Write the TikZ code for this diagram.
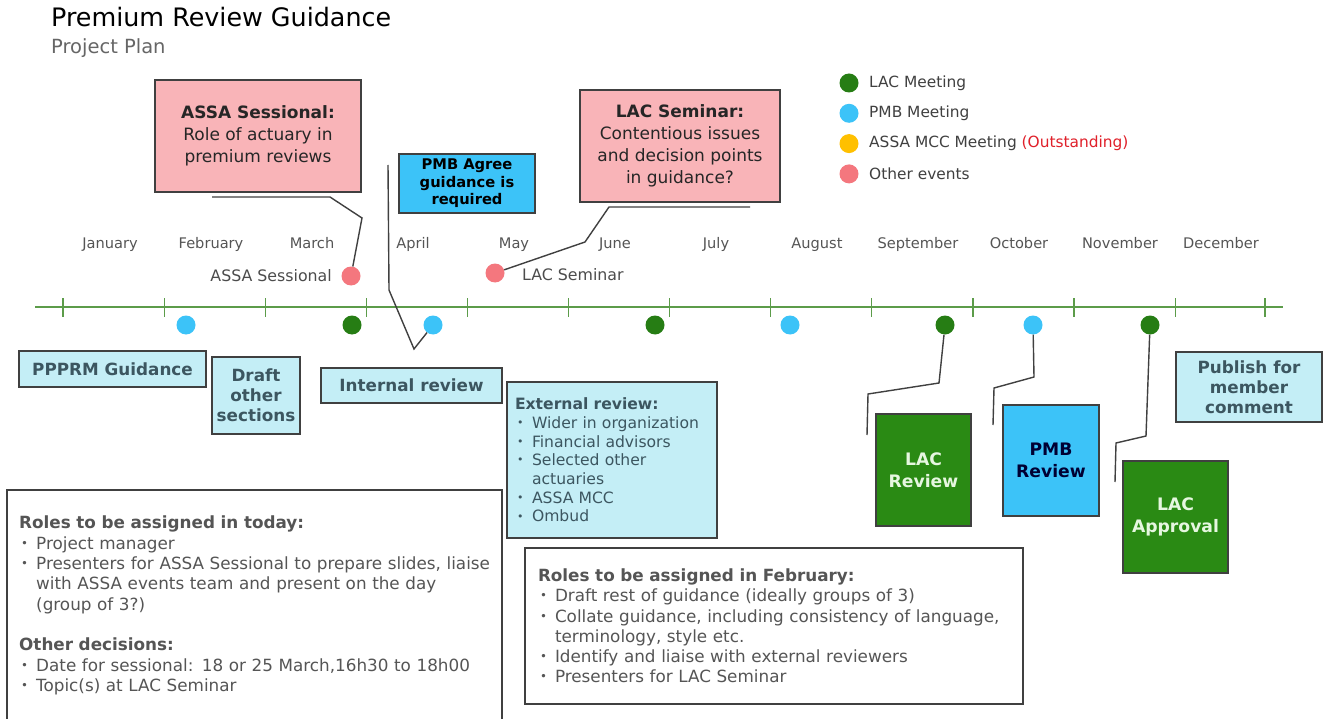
\documentclass[tikz,border=0pt]{standalone}
\usepackage{fontspec}
\usepackage{graphicx}
\setmainfont{DejaVu Sans}
\usetikzlibrary{positioning}
\definecolor{lacgreen}{HTML}{2A8A14}
\definecolor{lacdotc}{HTML}{267D14}
\definecolor{pmbblue}{HTML}{3CC3F8}
\definecolor{eventpink}{HTML}{F9B4B8}
\definecolor{eventdotc}{HTML}{F4777E}
\definecolor{mccorange}{HTML}{FFC000}
\definecolor{paleblue}{HTML}{C4EEF6}
\definecolor{slatetext}{HTML}{3C5660}
\definecolor{greytext}{HTML}{555555}
\definecolor{axisgreen}{HTML}{5C9C4A}
\definecolor{outred}{HTML}{E0202A}
\definecolor{palegreentext}{HTML}{E6F7E0}
\hyphenpenalty=10000
\exhyphenpenalty=10000
\newcommand{\pitem}[1]{\par\noindent\hangindent=17pt\hangafter=1\makebox[17pt][l]{\hspace{2pt}\raisebox{0.12em}{\scalebox{0.7}{\textbullet}}}#1}
\tikzset{
  box/.style={draw=black!75, line width=1.2pt, align=center, inner sep=0pt},
  pinkbox/.style={box, fill=eventpink, text=black!85, font=\fontsize{17}{22}\selectfont},
  agreebox/.style={box, fill=pmbblue, text=black, font=\bfseries\fontsize{14.7}{17.5}\selectfont},
  palebox/.style={box, fill=paleblue, text=slatetext, font=\bfseries\fontsize{16.8}{20}\selectfont},
  greenbox/.style={box, fill=lacgreen, text=palegreentext, font=\bfseries\fontsize{17.2}{22}\selectfont},
  bluebox/.style={box, fill=pmbblue, text=black!80!blue, font=\bfseries\fontsize{17.2}{22}\selectfont},
  notebox/.style={draw=black!75, line width=1.2pt, align=left, text=greytext},
  callout/.style={draw=black!75, line width=1.4pt},
  axis/.style={draw=axisgreen, line width=1.2pt},
  month/.style={text=greytext, anchor=base, font=\fontsize{14.6}{16}\selectfont},
  evdot/.style={circle, minimum size=19pt, inner sep=0pt},
  lacdot/.style={evdot, fill=lacdotc},
  pmbdot/.style={evdot, fill=pmbblue},
  otherdot/.style={evdot, fill=eventdotc},
}
\begin{document}
\begin{tikzpicture}[x=1pt,y=-1pt]
\useasboundingbox[fill=white] (0,0) rectangle (1324,719);

% heading
\node[anchor=west, inner sep=0pt, font=\fontsize{25.4}{28}\selectfont] (title) at (51,17) {Premium Review Guidance};
\node[anchor=west, inner sep=0pt, text=black!60, font=\fontsize{19.5}{22}\selectfont] (subtitle) at (51,48) {Project Plan};

% legend
\foreach \c/\t [count=\i from 0] in {lacdotc/LAC Meeting, pmbblue/PMB Meeting, mccorange/ASSA MCC Meeting \textcolor{outred}{(Outstanding)}, eventdotc/Other events}{
  \node[evdot, fill=\c] (legdot\i) at (849,{83+30.3*\i}) {};
  \node[anchor=west, inner sep=0pt, text=black!75, font=\fontsize{15.4}{17}\selectfont] (legtxt\i) at (869,{83+30.3*\i}) {\t};
}

% months and axis
\foreach \m [count=\i from 0] in {January,February,March,April,May,June,July,August,September,October,November,December}
  \node[month] (m\i) at ({110+101*\i},248) {\m};
\draw[axis] (35,307) -- (1283,307);
\foreach \k in {0,...,11}
  \draw[axis] ({63+101.1*\k},298) -- ++(0,19);
\draw[axis] (1265,298) -- ++(0,19);

% events on the line
\node[otherdot] (dotsess) at (351,276) {};
\node[otherdot] (dotsem) at (495,273) {};
\node[anchor=east, inner sep=0pt, text=black!70, font=\fontsize{15.8}{18}\selectfont] (sesslbl) at (332,276) {ASSA Sessional};
\node[anchor=west, inner sep=0pt, text=black!70, font=\fontsize{15.8}{18}\selectfont] (semlbl) at (522,275) {LAC Seminar};
\node[pmbdot] (dotfeb) at (186,325) {};
\node[lacdot] (dotmar) at (352,325) {};
\node[pmbdot] (dotapr) at (433,325) {};
\node[lacdot] (dotjun) at (655,325) {};
\node[pmbdot] (dotaug) at (790,325) {};
\node[lacdot] (dotsep) at (945,325) {};
\node[pmbdot] (dotoct) at (1033,325) {};
\node[lacdot] (dotnov) at (1150,325) {};

% boxes above the line
\node[pinkbox, minimum width=206pt, minimum height=112pt] (sessbox) at (258,136)
  {\textbf{ASSA Sessional:}\\Role of actuary in\\premium reviews};
\node[agreebox, minimum width=136pt, minimum height=59pt] (agreebox) at (467,183.5)
  {PMB Agree\\guidance is\\required};
\node[pinkbox, minimum width=200pt, minimum height=112pt] (sembox) at (680,146)
  {\textbf{LAC Seminar:}\\Contentious issues\\and decision points\\in guidance?};

% boxes below the line
\node[palebox, minimum width=187pt, minimum height=36pt] (pppr) at (112.5,369) {PPPRM Guidance};
\node[palebox, minimum width=88pt, minimum height=77pt] (draft) at (256,395.5) {Draft\\other\\sections};
\node[palebox, minimum width=181pt, minimum height=35pt] (internal) at (411.5,385.5) {Internal review};
\node[box, fill=paleblue, text=slatetext, align=left, inner xsep=8pt, text width=194pt,
  minimum height=156pt, font=\fontsize{15.6}{18.7}\selectfont] (external) at (612,460)
  {\textbf{External review:}
   \pitem{Wider in organization}
   \pitem{Financial advisors}
   \pitem{Selected other actuaries}
   \pitem{ASSA MCC}
   \pitem{Ombud}};
\node[greenbox, minimum width=95pt, minimum height=112pt] (lacrev) at (923.5,470) {LAC\\Review};
\node[bluebox, minimum width=96pt, minimum height=111pt] (pmbrev) at (1051,460.5) {PMB\\Review};
\node[greenbox, minimum width=105pt, minimum height=112pt] (lacappr) at (1175.5,517) {LAC\\Approval};
\node[palebox, minimum width=146pt, minimum height=70pt] (publish) at (1249,387) {Publish for\\member\\comment};

% callouts
\coordinate (sessfree) at (212,197);
\draw[callout] (sessfree) -- (330,197) -- (362,218) -- (dotsess);
\coordinate (agreefree) at (388,165);
\draw[callout] (agreefree) -- (389,290) -- (414,349) -- (dotapr);
\coordinate (semfree) at (750,207);
\draw[callout] (semfree) -- (609,207) -- (585,242) -- (dotsem);
\coordinate (lacrevfree) at (867,435);
\draw[callout] (dotsep) -- (939,383) -- (868,394) -- (lacrevfree);
\coordinate (pmbrevfree) at (993,425);
\draw[callout] (dotoct) -- (1034,377) -- (994,388) -- (pmbrevfree);
\coordinate (apprfree) at (1115,482);
\draw[callout] (dotnov) -- (1146,436) -- (1116,443) -- (apprfree);

% notes
\draw[draw=black!75, line width=1.2pt] (7,730) |- (502,490) -- (502,730);
\node[anchor=north west, inner sep=0pt, align=left, text=greytext, text width=480pt,
  font=\fontsize{16.8}{20.3}\selectfont] (rolestoday) at (19,516)
  {\textbf{Roles to be assigned in today:}
   \pitem{Project manager}
   \pitem{Presenters for ASSA Sessional to prepare slides, liaise with ASSA events team and present on the day\newline (group of 3?)}
   \par\vspace{20.3pt}
   \noindent\textbf{Other decisions:}
   \pitem{Date for sessional: 18 or 25 March,16h30 to 18h00}
   \pitem{Topic(s) at LAC Seminar}};
\node[notebox, inner xsep=13pt, inner ysep=0pt, text width=472pt, minimum height=156pt,
  font=\fontsize{16.8}{20.2}\selectfont] (rolesfeb) at (774,626)
  {\textbf{Roles to be assigned in February:}
   \pitem{Draft rest of guidance (ideally groups of 3)}
   \pitem{Collate guidance, including consistency of language, terminology, style etc.}
   \pitem{Identify and liaise with external reviewers}
   \pitem{Presenters for LAC Seminar}};
\end{tikzpicture}
\end{document}
